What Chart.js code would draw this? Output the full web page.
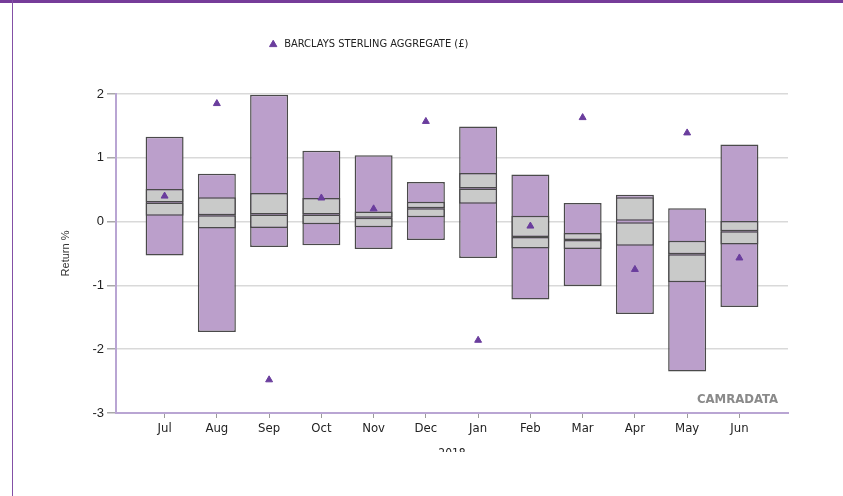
<!DOCTYPE html>
<html>
<head>
<meta charset="utf-8">
<script src="https://cdn.jsdelivr.net/npm/chart.js@4"></script>
<style>
  html, body { margin: 0; padding: 0; background: #fff; }
  #wrap { position: absolute; left: 0; top: 0; width: 843px; height: 452px; overflow: hidden; }
  #topbar { position: absolute; left: 0; top: 0; width: 843px; height: 3px; background: #763c99; }
  #leftline { position: absolute; left: 12px; top: 0; width: 1px; height: 496px; background: #8350a6; }
</style>
</head>
<body>
<div id="wrap"><canvas id="c" width="843" height="496"></canvas></div>
<div id="topbar"></div>
<div id="leftline"></div>
<script>
const months = ['Jul','Aug','Sep','Oct','Nov','Dec','Jan','Feb','Mar','Apr','May','Jun'];
const maxVals   = [1.33, 0.75, 1.99, 1.11, 1.04, 0.62, 1.49, 0.74, 0.29, 0.42, 0.21, 1.21];
const upperQ    = [0.51, 0.38, 0.45, 0.37, 0.16, 0.31, 0.76, 0.09, -0.18, 0.38, -0.30, 0.01];
const medians   = [0.30, 0.10, 0.11, 0.11, 0.06, 0.21, 0.52, -0.24, -0.29, 0.00, -0.51, -0.15];
const lowerQ    = [0.09, -0.11, -0.10, -0.04, -0.09, 0.07, 0.28, -0.42, -0.43, -0.38, -0.95, -0.36];
const minVals   = [-0.53, -1.73, -0.40, -0.37, -0.43, -0.29, -0.57, -1.22, -1.01, -1.45, -2.35, -1.34];
const benchmark = [0.40, 1.85, -2.48, 0.37, 0.20, 1.57, -1.86, -0.07, 1.63, -0.75, 1.39, -0.57];
const benchmarkName = 'BARCLAYS STERLING AGGREGATE (£)';
const yTicks = [-3, -2, -1, 0, 1, 2];
const xTitle = '2018';
const yTitle = 'Return %';
const watermark = 'CAMRADATA';

const narrow = "'Liberation Sans Narrow', 'DejaVu Sans Condensed', 'Liberation Sans', sans-serif";
const regular = "'Liberation Sans', Arial, sans-serif";

const purpleFill = '#bb9fcb';
const greyFill = '#c9cac9';
const outline = '#4a4a4a';
const markColor = '#6a3d9d';

const barCommon = {
  type: 'bar',
  grouped: false,
  categoryPercentage: 1,
  barPercentage: 0.727,
  borderWidth: 1.5,
  borderSkipped: false,
  borderColor: outline
};

const shiftPlugin = {
  id: 'legendShift',
  afterLayout(chart) {
    const l = chart.legend;
    if (!l) return;
    l.left -= 26; l.right -= 26;
    l.top -= 34; l.bottom -= 34;
  },
  afterDatasetsDraw(chart) {
    const {ctx, chartArea} = chart;
    ctx.save();
    ctx.font = "bold 13px " + narrow;
    ctx.fillStyle = '#8a8a8a';
    ctx.textAlign = 'right';
    ctx.textBaseline = 'alphabetic';
    ctx.fillText(watermark, chartArea.right - 10, chartArea.bottom - 10);
    ctx.restore();
  }
};

new Chart(document.getElementById('c'), {
  data: {
    datasets: [
      {
        type: 'line',
        label: benchmarkName,
        data: benchmark.map((v, i) => ({x: i, y: v})),
        showLine: false,
        pointStyle: 'triangle',
        pointRadius: 4,
        pointHoverRadius: 4,
        backgroundColor: markColor,
        borderColor: markColor,
        borderWidth: 1
      },
      Object.assign({}, barCommon, {
        label: 'upper',
        data: medians.map((m, i) => ({x: i, y: [m, upperQ[i]]})),
        backgroundColor: greyFill
      }),
      Object.assign({}, barCommon, {
        label: 'lower',
        data: medians.map((m, i) => ({x: i, y: [lowerQ[i], m]})),
        backgroundColor: greyFill
      }),
      Object.assign({}, barCommon, {
        label: 'range',
        data: minVals.map((m, i) => ({x: i, y: [m, maxVals[i]]})),
        backgroundColor: purpleFill
      })
    ]
  },
  options: {
    responsive: false,
    animation: false,
    devicePixelRatio: 1,
    layout: { padding: { left: 0, right: 55, top: 63, bottom: 35 } },
    plugins: {
      tooltip: { enabled: false },
      legend: {
        display: true,
        position: 'top',
        align: 'center',
        labels: {
          filter: item => item.datasetIndex === 0,
          usePointStyle: true,
          boxHeight: 6,
          padding: 10,
          color: '#222',
          font: { family: narrow, size: 11 }
        }
      }
    },
    scales: {
      x: {
        type: 'linear',
        offset: false,
        min: -0.93,
        max: 11.93,
        afterBuildTicks: s => { s.ticks = months.map((m, i) => ({value: i})); },
        afterFit: s => { s.height = 48; },
        ticks: {
          autoSkip: false,
          maxRotation: 0,
          color: '#222',
          font: { family: narrow, size: 13 },
          padding: 3,
          callback: v => months[v]
        },
        grid: { display: true, offset: false, drawOnChartArea: false, drawTicks: true, tickLength: 5, color: '#9a9a9a', tickColor: '#9a9a9a' },
        border: { display: true, color: '#b9a5d3', width: 2 },
        title: { display: true, text: xTitle, color: '#222', font: { family: narrow, size: 12 }, padding: { top: 0, bottom: 0 } }
      },
      y: {
        type: 'linear',
        min: -3,
        max: 2,
        afterBuildTicks: s => { s.ticks = yTicks.map(v => ({value: v})); },
        afterFit: s => { s.width = 116; },
        ticks: {
          color: '#222',
          font: { family: regular, size: 13 },
          padding: 3,
          callback: v => String(v)
        },
        grid: { color: '#d9d9d9', lineWidth: 1.5, tickLength: 9, tickColor: '#a9a9a9' },
        border: { display: true, color: '#b9a5d3', width: 2 },
        title: { display: true, text: yTitle, color: '#333', font: { family: regular, size: 11 }, padding: { top: 59, bottom: 0 } }
      }
    }
  },
  plugins: [shiftPlugin]
});
</script>
</body>
</html>
